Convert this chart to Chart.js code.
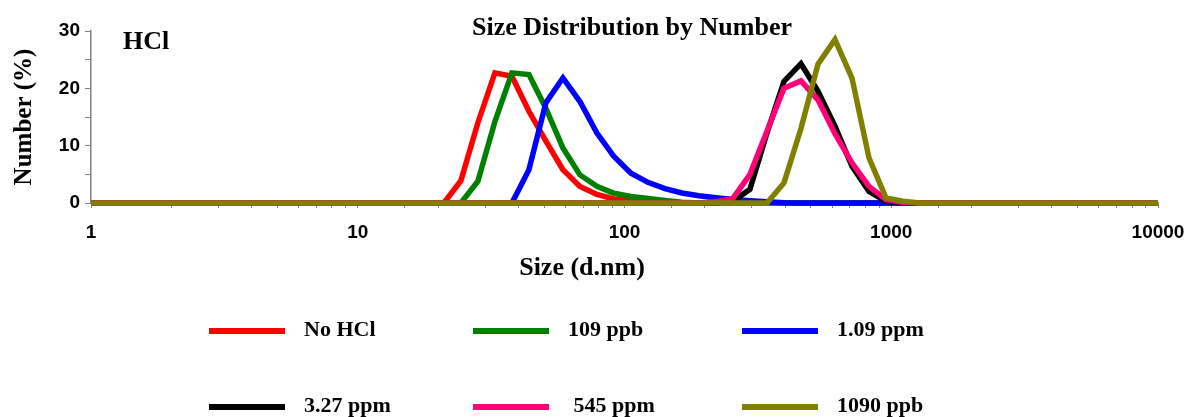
<!DOCTYPE html>
<html>
<head>
<meta charset="utf-8">
<title>Size Distribution by Number</title>
<script src="https://cdn.jsdelivr.net/npm/chart.js@4.4.1/dist/chart.umd.min.js"></script>
<style>
  html, body { margin: 0; padding: 0; background: #fff; }
  #caja { width: 1189px; height: 417px; position: relative; }
</style>
</head>
<body>
<div id="caja"><canvas id="distribucionChart"></canvas></div>
<script>
// ===============================
// Datos (bins de tamaño, d.nm)
// ===============================
const tamanos = [
  0.9649, 1.117, 1.294, 1.499, 1.736, 2.010, 2.328, 2.696,
  3.122, 3.615, 4.187, 4.849, 5.615, 6.503, 7.531, 8.721,
  10.10, 11.70, 13.54, 15.69, 18.17, 21.04, 24.36, 28.21,
  32.67, 37.84, 43.82, 50.75, 58.77, 68.06, 78.82, 91.28,
  105.7, 122.4, 141.8, 164.2, 190.1, 220.2, 255.0, 295.3,
  342.0, 396.1, 458.7, 531.2, 615.1, 712.4, 825.0, 955.4,
  1106, 1281, 1484, 1718, 1990, 2305, 2669, 3091,
  3580, 4145, 4801, 5560, 6439, 7456, 8635, 10000
];

// Number (%) por muestra
const noHCl = [
  0, 0, 0, 0, 0, 0, 0, 0,
  0, 0, 0, 0, 0, 0, 0, 0,
  0, 0, 0, 0, 0, 0, 3.9, 14.0,
  22.7, 22.1, 16.0, 10.8, 5.8, 2.9, 1.5, 0.7,
  0.3, 0.1, 0, 0, 0, 0, 0, 0,
  0, 0, 0, 0, 0, 0, 0, 0,
  0, 0, 0, 0, 0, 0, 0, 0,
  0, 0, 0, 0, 0, 0, 0, 0
];
const hcl109ppb = [
  0, 0, 0, 0, 0, 0, 0, 0,
  0, 0, 0, 0, 0, 0, 0, 0,
  0, 0, 0, 0, 0, 0, 0, 3.8,
  14.2, 22.7, 22.4, 16.5, 9.6, 4.9, 2.9, 1.7,
  1.15, 0.8, 0.45, 0.15, 0, 0, 0, 0,
  0, 0, 0, 0, 0, 0, 0, 0,
  0, 0, 0, 0, 0, 0, 0, 0,
  0, 0, 0, 0, 0, 0, 0, 0
];
const hcl109ppm = [
  0, 0, 0, 0, 0, 0, 0, 0,
  0, 0, 0, 0, 0, 0, 0, 0,
  0, 0, 0, 0, 0, 0, 0, 0,
  0, 0, 5.8, 17.5, 21.8, 17.7, 12.2, 8.1,
  5.2, 3.6, 2.5, 1.75, 1.25, 0.9, 0.6, 0.4,
  0.2, 0.05, 0, 0, 0, 0, 0, 0,
  0, 0, 0, 0, 0, 0, 0, 0,
  0, 0, 0, 0, 0, 0, 0, 0
];
const hcl327ppm = [
  0, 0, 0, 0, 0, 0, 0, 0,
  0, 0, 0, 0, 0, 0, 0, 0,
  0, 0, 0, 0, 0, 0, 0, 0,
  0, 0, 0, 0, 0, 0, 0, 0,
  0, 0, 0, 0, 0, 0, 0.3, 2.4,
  12.2, 21.2, 24.3, 19.5, 13.4, 6.4, 2.0, 0.3,
  0, 0, 0, 0, 0, 0, 0, 0,
  0, 0, 0, 0, 0, 0, 0, 0
];
const hcl545ppm = [
  0, 0, 0, 0, 0, 0, 0, 0,
  0, 0, 0, 0, 0, 0, 0, 0,
  0, 0, 0, 0, 0, 0, 0, 0,
  0, 0, 0, 0, 0, 0, 0, 0,
  0, 0, 0, 0, 0, 0.2, 0.8, 5.0,
  12.5, 20.0, 21.3, 18.0, 12.1, 7.0, 2.9, 0.6,
  0.1, 0, 0, 0, 0, 0, 0, 0,
  0, 0, 0, 0, 0, 0, 0, 0
];
const hcl1090ppb = [
  0, 0, 0, 0, 0, 0, 0, 0,
  0, 0, 0, 0, 0, 0, 0, 0,
  0, 0, 0, 0, 0, 0, 0, 0,
  0, 0, 0, 0, 0, 0, 0, 0,
  0, 0, 0, 0, 0, 0, 0, 0,
  0, 3.5, 13.0, 24.2, 28.5, 21.8, 7.9, 0.9,
  0.3, 0, 0, 0, 0, 0, 0, 0,
  0, 0, 0, 0, 0, 0, 0, 0
];

const etiquetas = ['No HCl', '109 ppb', '1.09 ppm', '3.27 ppm', ' 545 ppm', '1090 ppb'];
const valores = [noHCl, hcl109ppb, hcl109ppm, hcl327ppm, hcl545ppm, hcl1090ppb];
const colores = ['#ff0000', '#008000', '#0000ff', '#000000', '#ff0078', '#808000'];

const ticksX = [1, 10, 100, 1000, 10000];
const ticksY = [0, 10, 20, 30];

const tituloGrafico = 'Size Distribution by Number';
const rotuloMuestra = 'HCl';
const tituloX = 'Size (d.nm)';
const tituloY = 'Number (%)';

const serif = '"Liberation Serif", "Times New Roman", serif';
Chart.defaults.font.family = '"Liberation Sans", Arial, sans-serif';
Chart.defaults.color = '#000';

// ===============================
// Títulos y leyenda (dibujados)
// ===============================
const textos = {
  id: 'textos',
  afterDraw(chart) {
    const ctx = chart.ctx;
    ctx.save();
    ctx.fillStyle = '#000';
    ctx.textBaseline = 'alphabetic';
    ctx.font = 'bold 26px ' + serif;
    ctx.textAlign = 'center';
    ctx.fillText(tituloGrafico, 632, 35);
    ctx.fillText(tituloX, 582, 275);
    ctx.textAlign = 'left';
    ctx.fillText(rotuloMuestra, 123, 49);

    // leyenda 3 columnas x 2 filas
    const colX = [209, 473, 742];
    const filaY = [331, 407];
    ctx.font = 'bold 22px ' + serif;
    chart.data.datasets.forEach((ds, k) => {
      const x0 = colX[k % 3];
      const y0 = filaY[Math.floor(k / 3)];
      ctx.strokeStyle = ds.borderColor;
      ctx.lineWidth = 6;
      ctx.beginPath();
      ctx.moveTo(x0, y0);
      ctx.lineTo(x0 + 76, y0);
      ctx.stroke();
      ctx.fillText(ds.label, x0 + 95, y0 + 5);
    });
    ctx.restore();
  }
};

const datasets = etiquetas.map((et, k) => ({
  label: et,
  data: tamanos.map((t, i) => ({ x: t, y: valores[k][i] })),
  borderColor: colores[k],
  backgroundColor: colores[k],
  borderWidth: 5.5,
  pointRadius: 0,
  tension: 0,
  fill: false,
  order: etiquetas.length - k, // la última serie queda encima
  clip: { left: 0, right: 0, top: 8, bottom: 8 }
}));

new Chart(document.getElementById('distribucionChart'), {
  type: 'line',
  data: { datasets },
  plugins: [textos],
  options: {
    responsive: true,
    maintainAspectRatio: false,
    animation: false,
    layout: { padding: { top: 31, right: 31, bottom: 0, left: 0 } },
    plugins: {
      legend: { display: false },
      tooltip: { enabled: false }
    },
    scales: {
      x: {
        type: 'logarithmic',
        min: 1,
        max: 10000,
        afterFit: s => {
          s.height = 214;
          // que el "10000" no encoja el área del gráfico
          s.paddingLeft = 0;
          s.paddingRight = 0;
        },
        border: { display: true, color: '#808080', width: 1.5 },
        grid: { drawOnChartArea: false, drawTicks: true, tickLength: 5, color: '#808080' },
        ticks: {
          autoSkip: false,
          maxRotation: 0,
          minRotation: 0,
          padding: 13,
          font: { size: 19, weight: 'bold' },
          callback: v => ticksX.some(t => Math.abs(t - v) < 1e-6 * t) ? String(Math.round(v)) : ''
        }
      },
      y: {
        min: 0,
        max: 30,
        afterFit: s => { s.width = 91; },
        border: { display: true, color: '#808080', width: 1.5 },
        grid: { drawOnChartArea: false, drawTicks: true, tickLength: 6, color: '#808080' },
        ticks: {
          stepSize: 5,
          padding: 5,
          font: { size: 19, weight: 'bold' },
          callback: v => ticksY.includes(v) ? String(v) : ''
        },
        title: {
          display: true,
          text: tituloY,
          color: '#000',
          font: { family: serif, size: 25, weight: 'bold' },
          padding: { top: 10, bottom: 0 }
        }
      }
    }
  }
});
</script>
</body>
</html>
